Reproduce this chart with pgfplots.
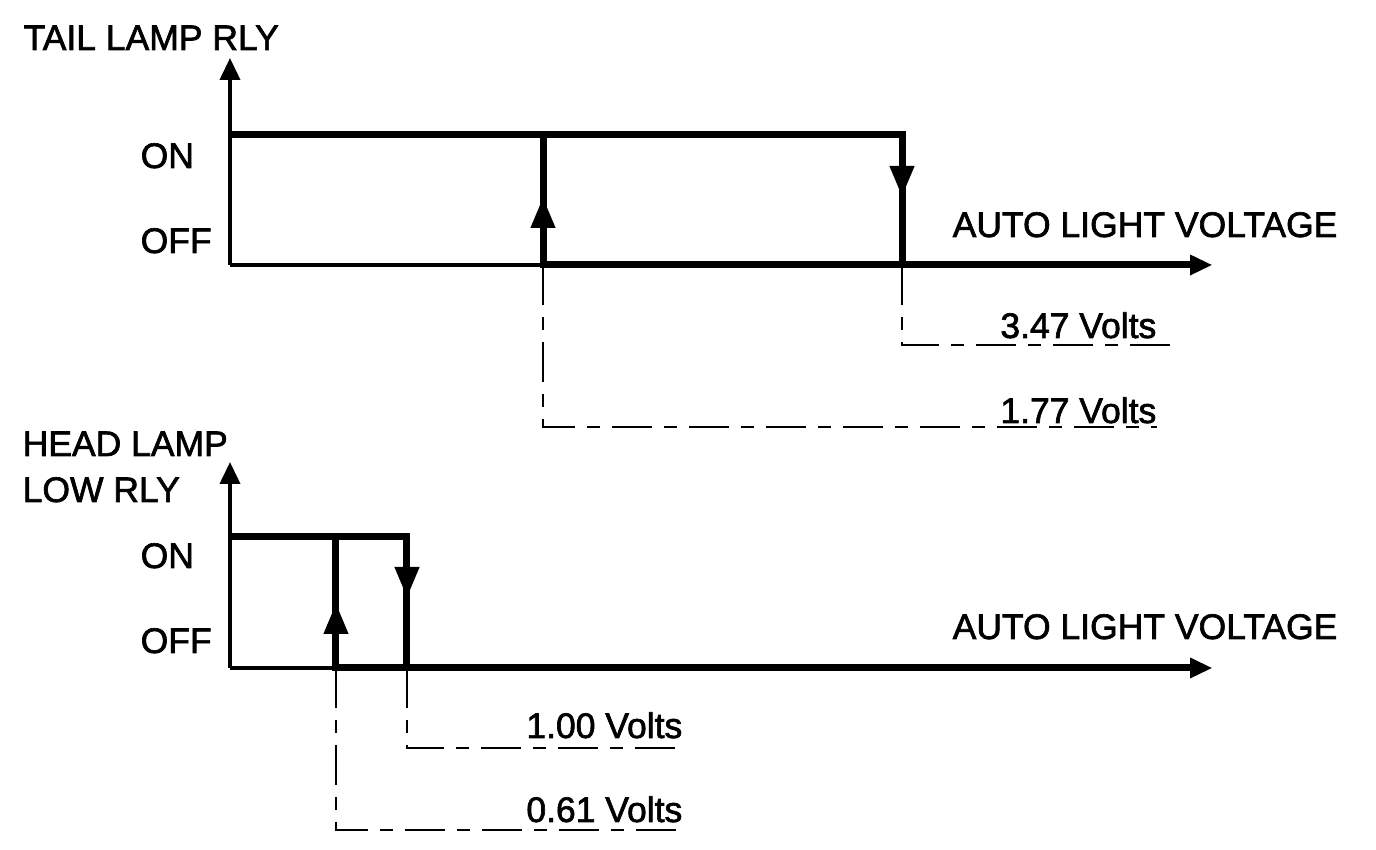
\documentclass[border=0pt]{standalone}
\usepackage{fontspec}
\setmainfont{Liberation Sans}[BoldFont={Liberation Sans}, BoldFeatures={FakeBold=1.8}]
\usepackage{pgfplots}
\pgfplotsset{compat=1.18}
\usetikzlibrary{arrows.meta}
\newcommand\lbl{\fontsize{10.1}{12}\selectfont\bfseries}
\pgfplotsset{
  relay/.style={
    x=0.1mm, y=0.1mm,
    xmin=0, xmax=982, ymin=0,
    axis lines=left,
    enlargelimits=false,
    xtick=\empty, ytick=\empty,
    clip=false,
    axis line style={line width=0.38mm},
    x axis line style={-{Triangle[length=2.2mm,width=2mm]}},
    y axis line style={-{Triangle[length=2.2mm,width=2mm]}},
  },
  thickline/.style={line width=0.7mm, black, no markers, line join=miter},
  dashline/.style={line width=0.22mm, black, no markers, dash pattern=on 4mm off 1.2mm on 1.3mm off 1.2mm},
  arrowhead/.style={line width=0.7mm, black, no markers, -{Triangle[length=3.1mm,width=2.3mm]}},
}
\begin{document}
\begin{tikzpicture}
\useasboundingbox (-23mm,-58.5mm) rectangle (114.6mm,26.5mm);
% ---------- TAIL LAMP RLY ----------
\begin{axis}[relay, ymax=207]
  % ON state line and switching at 3.47 V
  \addplot[thickline] coordinates {(0,130) (672,130) (672,0)};
  % switching at 1.77 V and OFF state line
  \addplot[thickline] coordinates {(313,130) (313,0) (960,0)};
  \addplot[arrowhead] coordinates {(672,130) (672,68)};
  \addplot[arrowhead] coordinates {(313,0) (313,68)};
  % voltage leaders
  \addplot[dashline] coordinates {(672,0) (672,-80) (943,-80)};
  \addplot[dashline] coordinates {(313,0) (313,-162) (927,-162)};
  \node[anchor=base west, font=\lbl, inner sep=0pt] at (axis cs:-207,215) {TAIL LAMP RLY};
  \node[anchor=base west, font=\lbl, inner sep=0pt] at (axis cs:-90,97) {ON};
  \node[anchor=base west, font=\lbl, inner sep=0pt] at (axis cs:-90,12) {OFF};
  \node[anchor=base west, font=\lbl, inner sep=0pt] at (axis cs:722,28) {AUTO LIGHT VOLTAGE};
  \node[anchor=base east, font=\lbl, inner sep=0pt] at (axis cs:927,-73) {3.47 Volts};
  \node[anchor=base east, font=\lbl, inner sep=0pt] at (axis cs:927,-158) {1.77 Volts};
\end{axis}
% ---------- HEAD LAMP LOW RLY ----------
\begin{axis}[relay, ymax=206, at={(0,-40.3mm)}, anchor=south west]
  \addplot[thickline] coordinates {(0,131) (177,131) (177,0)};
  \addplot[thickline] coordinates {(106,131) (106,0) (960,0)};
  \addplot[arrowhead] coordinates {(177,131) (177,70)};
  \addplot[arrowhead] coordinates {(106,0) (106,65)};
  \addplot[dashline] coordinates {(177,0) (177,-80) (448,-80)};
  \addplot[dashline] coordinates {(106,0) (106,-162) (446,-162)};
  \node[anchor=base west, font=\lbl, inner sep=0pt] at (axis cs:-208,212) {HEAD LAMP};
  \node[anchor=base west, font=\lbl, inner sep=0pt] at (axis cs:-208,166) {LOW RLY};
  \node[anchor=base west, font=\lbl, inner sep=0pt] at (axis cs:-90,100) {ON};
  \node[anchor=base west, font=\lbl, inner sep=0pt] at (axis cs:-90,15) {OFF};
  \node[anchor=base west, font=\lbl, inner sep=0pt] at (axis cs:722,29) {AUTO LIGHT VOLTAGE};
  \node[anchor=base east, font=\lbl, inner sep=0pt] at (axis cs:453,-70) {1.00 Volts};
  \node[anchor=base east, font=\lbl, inner sep=0pt] at (axis cs:453,-154) {0.61 Volts};
\end{axis}
\end{tikzpicture}
\end{document}
